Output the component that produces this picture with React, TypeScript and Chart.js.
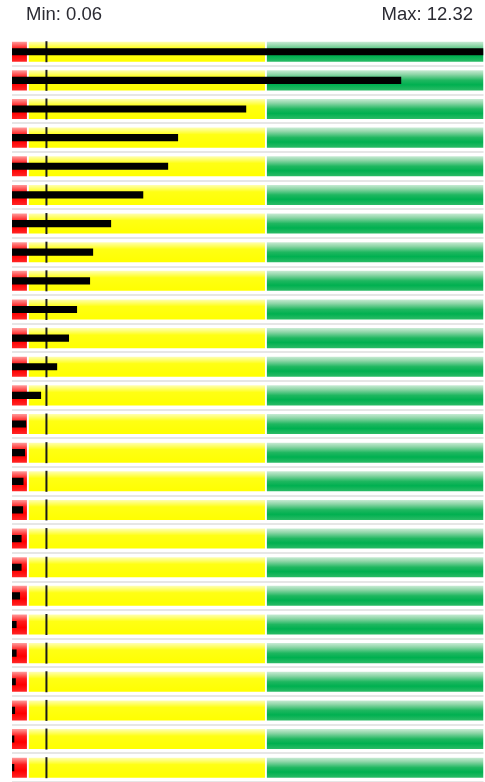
import React, { useEffect, useRef } from 'react';
import { Chart, registerables } from 'chart.js';

Chart.register(...registerables);

const categories = [
  '1', '2', '3', '4', '5', '6', '7', '8', '9', '10', '11', '12', '13',
  '14', '15', '16', '17', '18', '19', '20', '21', '22', '23', '24', '25', '26',
];

const actualValues = [
  12.32, 10.17, 6.12, 4.34, 4.08, 3.43, 2.59, 2.12, 2.04, 1.7, 1.49, 1.18, 0.76,
  0.37, 0.34, 0.3, 0.29, 0.25, 0.25, 0.21, 0.12, 0.12, 0.1, 0.08, 0.06, 0.06,
];

const targetValues = [
  0.9, 0.9, 0.9, 0.9, 0.9, 0.9, 0.9, 0.9, 0.9, 0.9, 0.9, 0.9, 0.9,
  0.9, 0.9, 0.9, 0.9, 0.9, 0.9, 0.9, 0.9, 0.9, 0.9, 0.9, 0.9, 0.9,
];

const minValue = 0.06;
const maxValue = 12.32;

const redRange = [0, 0.39];
const yellowRange = [0.44, 6.61];
const greenRange = [6.66, 12.32];

const BAND_PCT = 0.7;

type Stop = [number, string];

const redStops: Stop[] = [
  [0, '#ff9c9c'],
  [0.35, '#ff1c1c'],
  [0.65, '#ff0000'],
  [1, '#ff2626'],
];
const yellowStops: Stop[] = [
  [0, '#ffffb4'],
  [0.35, '#ffff14'],
  [1, '#ffff00'],
];
const greenStops: Stop[] = [
  [0, '#c8ebd4'],
  [0.2, '#8fd6a8'],
  [0.5, '#1fb760'],
  [0.72, '#00b050'],
  [1, '#2bbb66'],
];

function vGradient(stops: Stop[]) {
  return (c: any) => {
    const chart = c.chart;
    const ys = chart.scales && chart.scales.y;
    if (!ys || c.dataIndex === undefined || !isFinite(ys.height)) {
      return stops[stops.length - 1][1];
    }
    const yc = ys.getPixelForValue(c.dataIndex);
    const h = (ys.height / categories.length) * BAND_PCT;
    const g = chart.ctx.createLinearGradient(0, yc - h / 2, 0, yc + h / 2);
    stops.forEach(([o, col]) => g.addColorStop(o, col));
    return g;
  };
}

export default function App() {
  const canvasRef = useRef<HTMLCanvasElement | null>(null);

  useEffect(() => {
    const canvas = canvasRef.current;
    if (!canvas) return;
    const band = (range: number[]) => categories.map(() => [range[0], range[1]]);
    const chart = new Chart(canvas, {
      type: 'bar',
      data: {
        labels: categories,
        datasets: [
          {
            label: 'Actual',
            data: actualValues,
            backgroundColor: '#000000',
            grouped: false,
            barPercentage: 0.25,
            categoryPercentage: 1,
            order: 0,
          } as any,
          {
            type: 'scatter',
            label: 'Target',
            data: targetValues.map((v, i) => ({ x: v, y: categories[i] })),
            pointStyle: 'line',
            rotation: 90,
            radius: 10.5,
            hoverRadius: 10.5,
            borderColor: '#1a1a1a',
            backgroundColor: '#1a1a1a',
            borderWidth: 2,
            showLine: false,
            clip: false,
            order: 1,
          } as any,
          {
            label: 'Poor',
            data: band(redRange),
            backgroundColor: vGradient(redStops),
            grouped: false,
            barPercentage: BAND_PCT,
            categoryPercentage: 1,
            order: 2,
          } as any,
          {
            label: 'Fair',
            data: band(yellowRange),
            backgroundColor: vGradient(yellowStops),
            grouped: false,
            barPercentage: BAND_PCT,
            categoryPercentage: 1,
            order: 3,
          } as any,
          {
            label: 'Good',
            data: band(greenRange),
            backgroundColor: vGradient(greenStops),
            grouped: false,
            barPercentage: BAND_PCT,
            categoryPercentage: 1,
            order: 4,
          } as any,
        ],
      },
      options: {
        indexAxis: 'y',
        animation: false,
        responsive: false,
        maintainAspectRatio: false,
        layout: { autoPadding: false, padding: { left: 12, right: 1.5, top: 37.4, bottom: 0 } },
        plugins: {
          legend: { display: false },
          tooltip: { enabled: false },
          title: { display: false },
        },
        scales: {
          x: {
            type: 'linear',
            min: 0,
            max: maxValue,
            display: false,
          },
          y: {
            type: 'category',
            display: true,
            offset: true,
            ticks: { display: false },
            border: { display: false },
            grid: {
              offset: true,
              drawTicks: false,
              lineWidth: 2,
              color: (c: any) => (c.index === 0 ? 'rgba(0,0,0,0)' : '#e6e6e6'),
            },
          },
        },
      } as any,
    });
    return () => chart.destroy();
  }, []);

  const textStyle: React.CSSProperties = {
    position: 'absolute',
    top: 4.8,
    fontSize: 18.5,
    lineHeight: '18.5px',
    whiteSpace: 'nowrap',
  };

  return (
    <div
      style={{
        position: 'absolute',
        left: 0,
        top: 0,
        width: 485,
        height: 782,
        overflow: 'hidden',
        background: '#ffffff',
        fontFamily: '"Liberation Sans", Arial, sans-serif',
        color: '#2b2b33',
      }}
    >
      <canvas
        ref={canvasRef}
        width={485}
        height={782}
        style={{ position: 'absolute', left: 0, top: 0, width: 485, height: 782 }}
      />
      <div style={{ ...textStyle, left: 26 }}>Min: {minValue.toFixed(2)}</div>
      <div style={{ ...textStyle, right: 12 }}>Max: {maxValue.toFixed(2)}</div>
    </div>
  );
}
